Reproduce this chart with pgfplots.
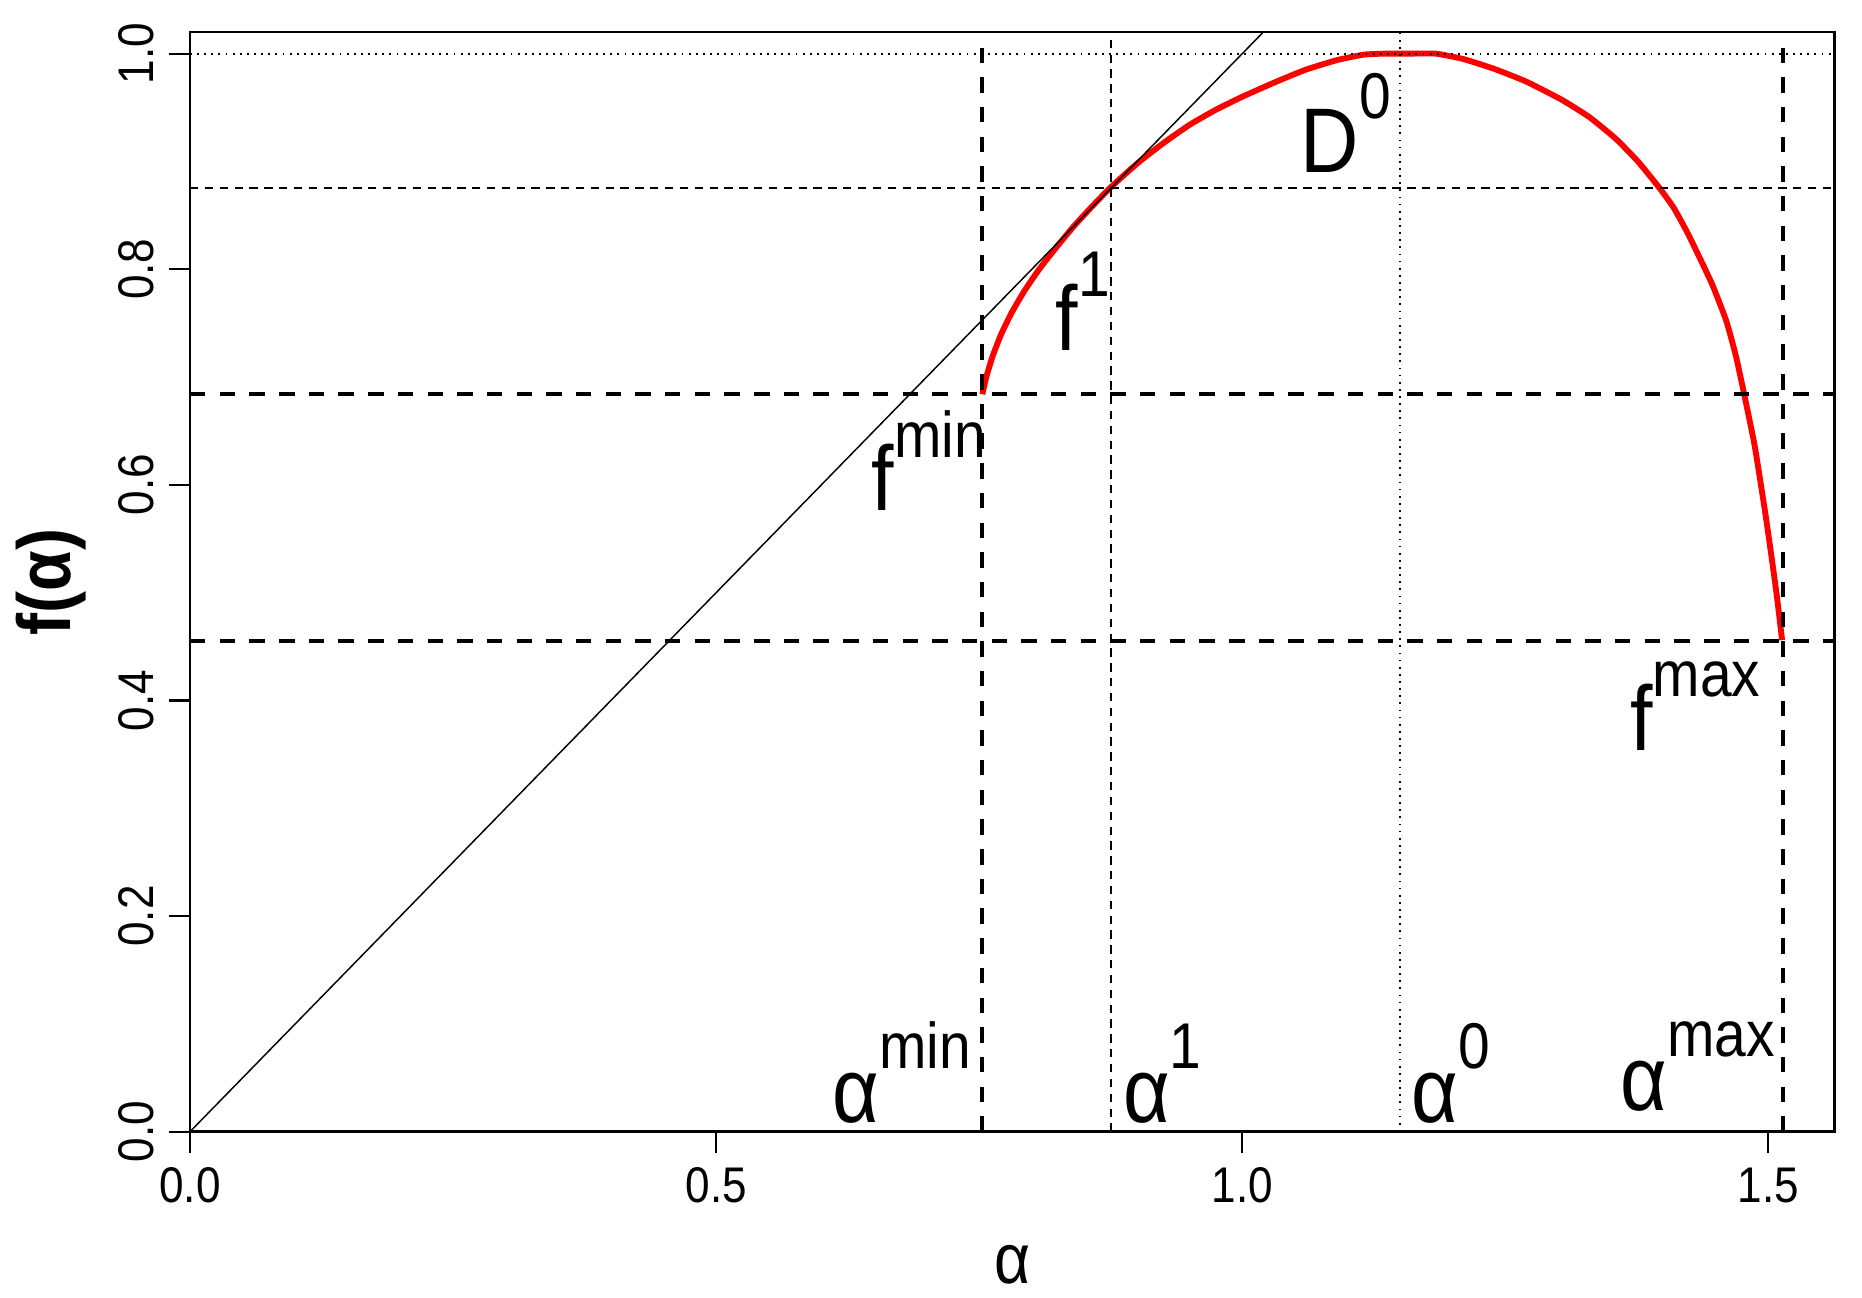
\documentclass[border=0pt]{standalone}
\usepackage{fontspec}
\setmainfont[FakeStretch=0.88]{Liberation Sans}
\usepackage{pgfplots}
\pgfplotsset{compat=1.18}

% base letter with a raised superscript, R plotmath style
\newcommand{\lab}[2]{#1\raisebox{4.5mm}{\fontsize{15.5}{15.5}\selectfont #2}}

\begin{document}
\begin{tikzpicture}
\begin{axis}[
    scale only axis,
    width=138.5mm, height=92.6mm,
    xmin=0, xmax=1.563, ymin=0, ymax=1.02,
    xtick={0,0.5,1,1.5},
    ytick={0,0.2,0.4,0.6,0.8,1},
    xtick pos=bottom, ytick pos=left,
    tick align=outside,
    major tick length=1.8mm,
    axis line style={line width=0.6pt},
    tick style={black, line width=0.5pt},
    ticklabel style={font=\fontsize{12}{12}\selectfont},
    /pgf/number format/.cd, fixed, fixed zerofill, precision=1, assume math mode=true,
    /pgfplots/.cd,
    yticklabel style={rotate=90, anchor=south},
    xlabel={α}, ylabel={f(α)},
    every axis x label/.style={at={(axis description cs:0.5,-0.121)}, anchor=center,
        inner sep=0pt, font=\fontsize{17}{17}\selectfont},
    every axis y label/.style={at={(axis description cs:-0.0845,0.5)}, rotate=90,
        anchor=center, inner sep=0pt, font=\bfseries\fontsize{18}{18}\selectfont},
]

% f(alpha) spectrum
\addplot[red, line width=1.4pt, smooth, tension=0.3] coordinates {
    (0.753,0.684) (0.757,0.701) (0.763,0.720) (0.771,0.740) (0.781,0.760)
    (0.793,0.780) (0.807,0.800) (0.823,0.820) (0.840,0.840) (0.857,0.858)
    (0.875,0.876) (0.900,0.898) (0.925,0.917) (0.950,0.934) (0.975,0.948)
    (1.000,0.960) (1.030,0.973) (1.060,0.985) (1.090,0.994) (1.115,0.999)
    (1.135,1.000) (1.160,1.000) (1.184,1.000) (1.210,0.995) (1.239,0.986)
    (1.270,0.974) (1.304,0.957) (1.330,0.941) (1.355,0.921) (1.376,0.900)
    (1.396,0.876) (1.410,0.857) (1.423,0.834) (1.435,0.810) (1.447,0.785)
    (1.460,0.752) (1.469,0.720) (1.477,0.684) (1.487,0.636) (1.497,0.574)
    (1.503,0.533) (1.508,0.497) (1.513,0.456)
};

% f = alpha
\addplot[black, line width=0.35pt] coordinates {(0,0) (1.1,1.1)};

% alpha_min, alpha_max, f_min, f_max
\addplot[black, line width=1pt, dash pattern=on 1.3mm off 1.2mm] coordinates {(0.753,0) (0.753,1.02)};
\addplot[black, line width=1pt, dash pattern=on 1.3mm off 1.2mm] coordinates {(1.5135,0) (1.5135,1.02)};
\addplot[black, line width=1pt, dash pattern=on 1.3mm off 1.2mm] coordinates {(0,0.684) (1.563,0.684)};
\addplot[black, line width=1pt, dash pattern=on 1.3mm off 1.2mm] coordinates {(0,0.455) (1.563,0.455)};

% alpha_1, f_1
\addplot[black, line width=0.4pt, dash pattern=on 0.7mm off 0.55mm] coordinates {(0.875,0) (0.875,1.02)};
\addplot[black, line width=0.4pt, dash pattern=on 0.7mm off 0.55mm] coordinates {(0,0.8755) (1.563,0.8755)};

% alpha_0, D_0
\addplot[black, line width=0.45pt, dash pattern=on 0.15mm off 0.45mm] coordinates {(1.150,0) (1.150,1.02)};
\addplot[black, line width=0.45pt, dash pattern=on 0.15mm off 0.45mm] coordinates {(0,1) (1.563,1)};

\begin{scope}[every node/.style={inner sep=0pt, font=\fontsize{22}{22}\selectfont}]
\node[anchor=base east] at (axis cs:0.743,0.009) {\lab{α}{min}};
\node[anchor=base west] at (axis cs:0.886,0.009) {\lab{α}{1}};
\node[anchor=base west] at (axis cs:1.160,0.009) {\lab{α}{0}};
\node[anchor=base east] at (axis cs:1.507,0.020) {\lab{α}{max}};
\node[anchor=base east] at (axis cs:0.757,0.576) {\lab{f}{min}};
\node[anchor=base west] at (axis cs:0.822,0.725) {\lab{f}{1}};
\node[anchor=base west] at (axis cs:1.055,0.890) {\lab{D}{0}};
\node[anchor=base west] at (axis cs:1.368,0.354) {\lab{f}{max}};
\end{scope}
\end{axis}
\path ([xshift=-16mm,yshift=-14mm]current axis.south west)
    rectangle ([xshift=2.3mm,yshift=2.7mm]current axis.north east);
\end{tikzpicture}
\end{document}
